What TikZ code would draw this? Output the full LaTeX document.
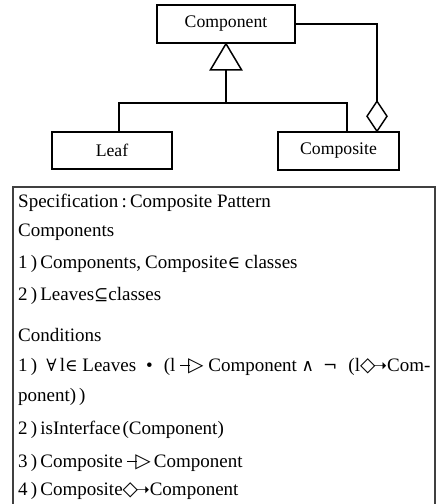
\documentclass[tikz,border=0pt]{standalone}
\usepackage{fontspec}
\setmainfont{Liberation Serif}
\newfontfamily\symf{DejaVu Sans}
\newfontfamily\mathsymf{DejaVu Serif}
\usetikzlibrary{calc}

% logic symbols
\newcommand\sy[1]{{\mathsymf\fontsize{17}{17}\selectfont #1}}
% generalisation arrow  ---|>  and aggregation arrow  <>-->
\newcommand\gensym{\raisebox{5.6pt}{\rule{10pt}{0.9pt}}\kern-2pt{\symf\fontsize{20}{20}\selectfont ▷}}
\newcommand\aggsym{{\symf\fontsize{20}{20}\selectfont ◇}\kern-2.5pt{\symf\fontsize{17}{17}\selectfont ➝}}
% full-width brackets
\newcommand\lpar{\kern11pt(}
\newcommand\enumlbl[1]{#1\,)\,}

\tikzset{
  cls/.style={draw, line width=1.5pt, inner sep=0pt, font=\fontsize{17.7}{20}\selectfont},
  conn/.style={line width=1.5pt, line join=miter},
  spec/.style={draw=black!75, line width=1.2pt},
  txt/.style={anchor=base west, inner sep=0pt, font=\fontsize{19}{20}\selectfont}
}

\begin{document}
\begin{tikzpicture}[x=1pt, y=-1pt]
\useasboundingbox (0,0) rectangle (442,504);

% class boxes
\node[cls, minimum width=138pt, minimum height=38pt] (comp) at (226,24) {Component};
\node[cls, line width=2.2pt, minimum width=120pt, minimum height=37pt] (leaf) at (112,150.5) {Leaf};
\node[cls, minimum width=121pt, minimum height=38pt] (compo) at (338.5,151) {Composite};

% generalisation: hollow triangle under Component, tree to the subclasses
\draw[conn] (comp.south) -- ++(-15.5,26) -- ++(31,0) -- cycle;
\coordinate (tb) at ($(comp.south)+(0,26)$);
\coordinate (bar) at (226,103);
\coordinate (lt) at (119,103);
\coordinate (rt) at (347,103);
\draw[conn] (tb) -- (bar);
\draw[conn] (leaf.north -| lt) -- (lt) -- (rt) -- (compo.north -| rt);

% aggregation: hollow diamond on Composite, line back to Component
\coordinate (ac) at (377,24);
\coordinate (dtip) at (compo.north -| ac);
\coordinate (dtop) at ($(dtip)+(0,-30)$);
\draw[conn] (dtip) -- ++(10,-15) -- (dtop) -- ++(-10,15) -- cycle;
\draw[conn] (comp.east) -| (dtop);

% specification frame
\draw[spec] (13,505) -- (13,187) -- (435,187) -- (435,505);

\node[txt] (l1) at (18,207) {Specification\,:\,Composite Pattern};
\node[txt] (l2) at (18,236) {Components};
\node[txt] (l3) at (18,268) {\enumlbl1Components,\kern4pt Composite\sy{∈} classes};
\node[txt] (l4) at (18,300) {\enumlbl2Leaves\sy{⊆}classes};
\node[txt] (l5) at (18,341) {Conditions};
\node[txt] (l6) at (18,371) {\enumlbl1\kern6pt\sy{∀}\,l\sy{∈} Leaves\kern10pt\textbullet\lpar l \gensym\ Component \sy{∧}\kern9pt\sy{¬}\lpar l\aggsym Com-};
\node[txt] (l7) at (18,401) {ponent)\kern3pt)};
\node[txt] (l8) at (18,434) {\enumlbl2isInterface\kern2pt(Component)};
\node[txt] (l9) at (18,467) {\enumlbl3Composite \gensym\,Component};
\node[txt] (l10) at (18,495) {\enumlbl4Composite\aggsym Component};
\end{tikzpicture}
\end{document}
